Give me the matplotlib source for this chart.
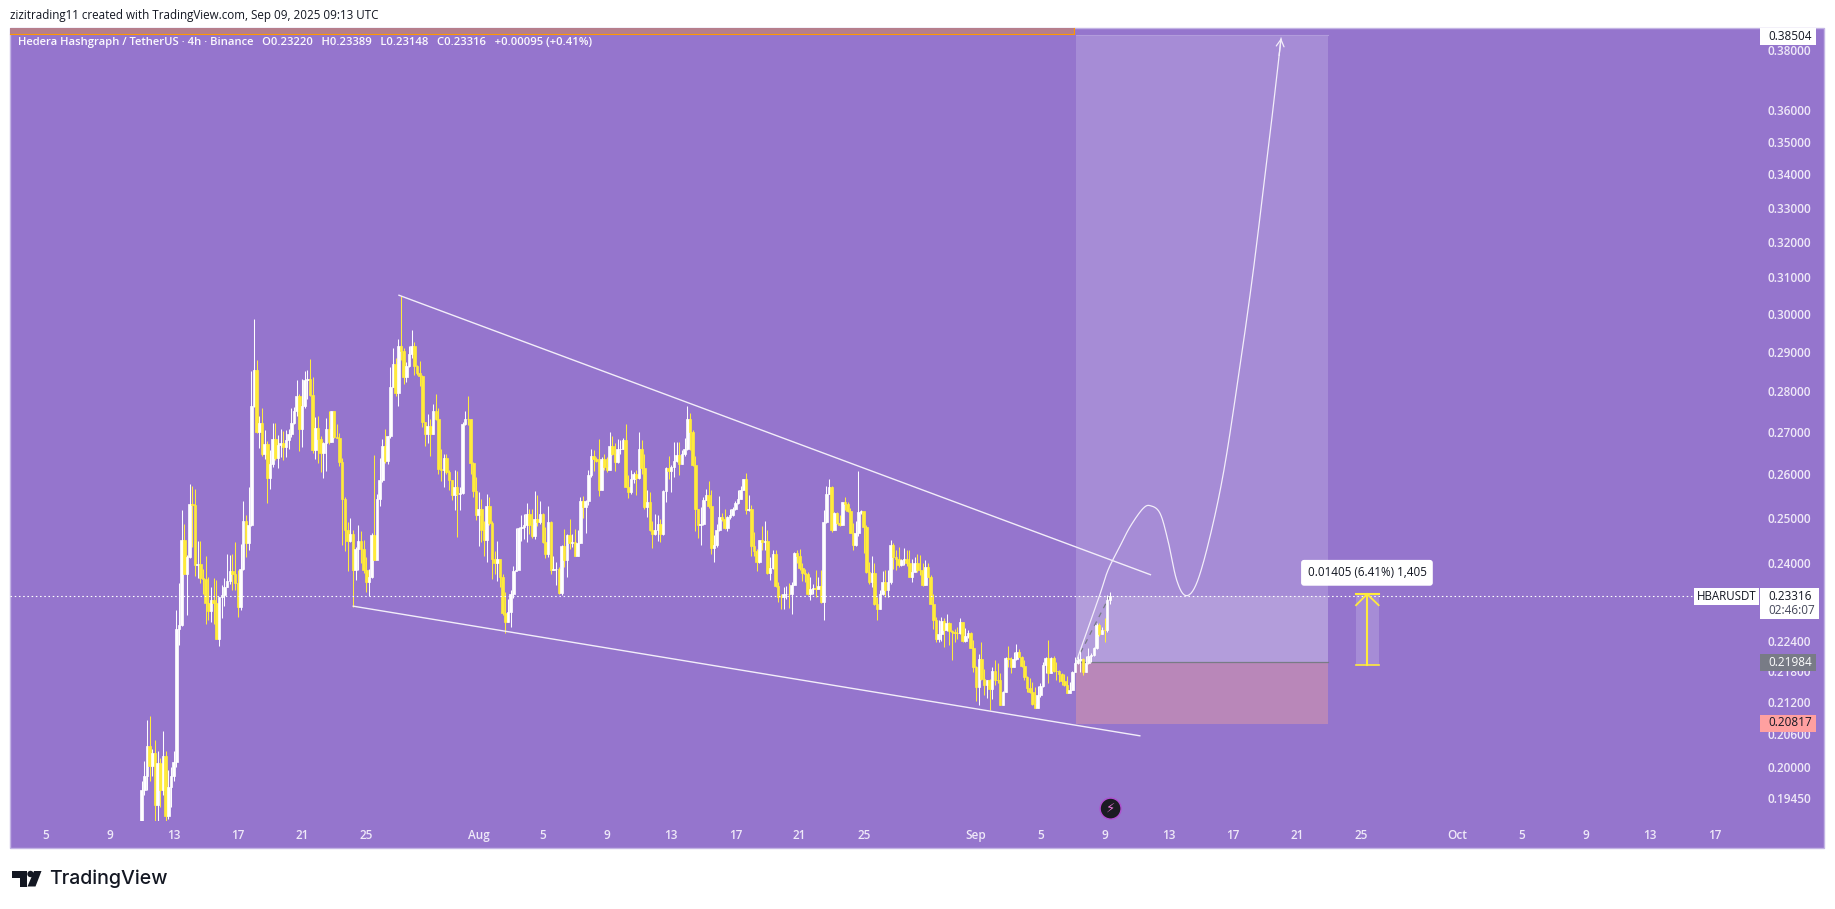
import numpy as np
import matplotlib
matplotlib.use("Agg")
import matplotlib.pyplot as plt
from matplotlib.patches import Rectangle, Circle, Polygon
from matplotlib.ticker import FixedLocator, FixedFormatter, NullLocator

W, H = 1835, 909
BG = "#9575CD"
UP = "#FFFFFF"
DOWN = "#FFEB3B"
TICK = "#EFE9F8"
FONT = "Open Sans"

# 4h candles of HBARUSDT, first bar on 11 Jul 2025 00:00 (days counted from 1 Jul)
first_open = 0.1880
first_day = 10.0
closes = [
 .1960,.1985,.2038,.2002,.2025,.1933,.2007,.1960,.2020,.1915,
 .1965,.1985,.2009,.2264,.2271,.2450,.2378,.2414,.2532,.2528,
 .2396,.2398,.2369,.2367,.2316,.2300,.2322,.2317,.2243,.2329,
 .2334,.2351,.2362,.2383,.2377,.2358,.2308,.2389,.2494,.2444,
 .2483,.2763,.2853,.2700,.2722,.2648,.2671,.2591,.2623,.2682,
 .2637,.2668,.2672,.2664,.2680,.2694,.2722,.2750,.2787,.2706,
 .2762,.2829,.2831,.2790,.2656,.2710,.2682,.2650,.2672,.2707,
 .2675,.2752,.2688,.2686,.2629,.2543,.2474,.2448,.2465,.2385,
 .2431,.2449,.2431,.2387,.2360,.2371,.2461,.2407,.2543,.2585,
 .2666,.2630,.2690,.2810,.2870,.2795,.2916,.2902,.2837,.2864,
 .2894,.2916,.2864,.2847,.2838,.2724,.2694,.2714,.2694,.2752,
 .2732,.2611,.2609,.2637,.2605,.2586,.2551,.2570,.2555,.2557,
 .2718,.2732,.2730,.2626,.2560,.2506,.2520,.2472,.2452,.2526,
 .2488,.2410,.2400,.2410,.2372,.2295,.2278,.2298,.2336,.2384,
 .2385,.2478,.2480,.2483,.2508,.2483,.2459,.2498,.2491,.2508,
 .2446,.2420,.2491,.2387,.2388,.2388,.2337,.2437,.2407,.2461,
 .2445,.2447,.2415,.2445,.2537,.2524,.2537,.2597,.2642,.2634,
 .2631,.2563,.2634,.2617,.2609,.2666,.2647,.2627,.2658,.2660,
 .2680,.2570,.2559,.2589,.2599,.2591,.2659,.2613,.2524,.2536,
 .2472,.2463,.2472,.2487,.2463,.2561,.2615,.2607,.2617,.2630,
 .2644,.2623,.2647,.2660,.2730,.2700,.2621,.2520,.2485,.2486,
 .2541,.2551,.2526,.2433,.2439,.2474,.2502,.2498,.2477,.2502,
 .2507,.2520,.2534,.2543,.2564,.2588,.2518,.2520,.2438,.2426,
 .2403,.2450,.2446,.2448,.2379,.2390,.2420,.2352,.2329,.2328,
 .2335,.2336,.2335,.2355,.2423,.2415,.2390,.2379,.2378,.2335,
 .2345,.2347,.2345,.2352,.2319,.2491,.2555,.2570,.2472,.2511,
 .2488,.2485,.2535,.2532,.2515,.2467,.2439,.2467,.2514,.2515,
 .2480,.2382,.2360,.2379,.2315,.2305,.2335,.2360,.2343,.2360,
 .2439,.2414,.2410,.2396,.2408,.2410,.2401,.2372,.2382,.2402,
 .2386,.2385,.2354,.2392,.2372,.2315,.2281,.2244,.2254,.2280,
 .2261,.2275,.2260,.2257,.2256,.2255,.2277,.2239,.2249,.2256,
 .2226,.2188,.2149,.2203,.2164,.2153,.2162,.2145,.2180,.2163,
 .2162,.2115,.2140,.2205,.2203,.2188,.2203,.2218,.2208,.2190,
 .2169,.2146,.2140,.2117,.2109,.2133,.2151,.2192,.2205,.2176,
 .2205,.2180,.2179,.2174,.2161,.2153,.2138,.2144,.2178,.2195,
 .2201,.2203,.2178,.2195,.2209,.2211,.2225,.2271,.2253,.2262,
 .2261,.2322,.23316,
]
highs = [
 .1975,.2011,.2086,.2093,.2032,.2050,.2029,.2016,.2065,.2029,
 .1995,.2000,.2029,.2303,.2359,.2518,.2487,.2418,.2577,.2572,
 .2565,.2448,.2448,.2389,.2415,.2372,.2350,.2368,.2364,.2330,
 .2354,.2370,.2421,.2418,.2421,.2447,.2385,.2443,.2537,.2506,
 .2571,.2850,.2988,.2880,.2738,.2758,.2704,.2678,.2656,.2722,
 .2722,.2692,.2706,.2702,.2704,.2708,.2758,.2760,.2827,.2794,
 .2831,.2850,.2853,.2883,.2837,.2736,.2738,.2690,.2676,.2734,
 .2752,.2752,.2752,.2718,.2696,.2637,.2546,.2490,.2500,.2472,
 .2436,.2483,.2470,.2452,.2414,.2389,.2467,.2644,.2554,.2637,
 .2682,.2708,.2690,.2861,.2910,.2884,.2935,.3049,.2911,.2875,
 .2916,.2957,.2925,.2866,.2876,.2840,.2724,.2744,.2730,.2768,
 .2794,.2758,.2659,.2648,.2648,.2609,.2586,.2609,.2606,.2570,
 .2724,.2750,.2789,.2732,.2629,.2593,.2559,.2543,.2494,.2553,
 .2547,.2494,.2426,.2448,.2410,.2377,.2339,.2325,.2343,.2394,
 .2478,.2480,.2506,.2509,.2534,.2520,.2520,.2560,.2551,.2537,
 .2511,.2480,.2526,.2494,.2415,.2403,.2392,.2439,.2476,.2465,
 .2497,.2463,.2476,.2472,.2547,.2549,.2541,.2609,.2660,.2656,
 .2640,.2682,.2639,.2647,.2640,.2699,.2690,.2672,.2683,.2680,
 .2686,.2718,.2597,.2609,.2605,.2609,.2699,.2680,.2648,.2564,
 .2559,.2494,.2509,.2506,.2498,.2563,.2617,.2642,.2621,.2676,
 .2676,.2676,.2656,.2686,.2762,.2746,.2704,.2642,.2520,.2524,
 .2547,.2566,.2583,.2563,.2461,.2487,.2549,.2511,.2520,.2503,
 .2520,.2524,.2539,.2563,.2572,.2589,.2603,.2551,.2528,.2468,
 .2432,.2451,.2481,.2493,.2474,.2414,.2430,.2428,.2360,.2335,
 .2350,.2352,.2359,.2360,.2424,.2428,.2431,.2400,.2389,.2382,
 .2371,.2356,.2385,.2371,.2385,.2518,.2572,.2588,.2572,.2512,
 .2513,.2506,.2536,.2546,.2536,.2523,.2489,.2494,.2607,.2517,
 .2508,.2483,.2403,.2415,.2401,.2329,.2343,.2383,.2385,.2387,
 .2450,.2444,.2430,.2436,.2410,.2434,.2428,.2428,.2410,.2414,
 .2420,.2418,.2400,.2407,.2402,.2375,.2335,.2288,.2281,.2288,
 .2286,.2293,.2278,.2262,.2264,.2268,.2285,.2278,.2266,.2261,
 .2258,.2241,.2190,.2213,.2237,.2183,.2163,.2164,.2188,.2201,
 .2195,.2175,.2142,.2207,.2229,.2207,.2217,.2234,.2223,.2210,
 .2201,.2170,.2167,.2159,.2149,.2151,.2156,.2198,.2207,.2241,
 .2207,.2209,.2197,.2181,.2175,.2174,.2170,.2159,.2180,.2207,
 .2209,.2219,.2205,.2209,.2225,.2215,.2228,.2276,.2275,.2268,
 .2286,.2333,.23389,
]
lows = [
 .1860,.1950,.1960,.1975,.1985,.1895,.1895,.1930,.1950,.1897,
 .1910,.1930,.1975,.2000,.2231,.2270,.2378,.2291,.2412,.2436,
 .2373,.2370,.2358,.2336,.2274,.2281,.2278,.2274,.2243,.2230,
 .2285,.2310,.2350,.2356,.2343,.2343,.2288,.2303,.2387,.2413,
 .2428,.2482,.2760,.2696,.2662,.2643,.2635,.2533,.2565,.2617,
 .2633,.2614,.2641,.2633,.2641,.2660,.2688,.2720,.2738,.2654,
 .2664,.2758,.2780,.2787,.2650,.2635,.2626,.2605,.2590,.2606,
 .2670,.2675,.2685,.2685,.2619,.2441,.2426,.2383,.2446,.2309,
 .2364,.2385,.2401,.2379,.2340,.2331,.2368,.2407,.2439,.2526,
 .2581,.2626,.2623,.2684,.2811,.2787,.2764,.2878,.2819,.2823,
 .2861,.2885,.2840,.2841,.2813,.2712,.2667,.2674,.2642,.2694,
 .2728,.2599,.2584,.2570,.2601,.2563,.2540,.2517,.2457,.2517,
 .2555,.2716,.2716,.2599,.2547,.2496,.2438,.2446,.2416,.2403,
 .2483,.2366,.2378,.2362,.2350,.2291,.2256,.2278,.2268,.2327,
 .2384,.2409,.2449,.2454,.2446,.2465,.2456,.2454,.2481,.2486,
 .2445,.2412,.2414,.2377,.2385,.2355,.2336,.2333,.2392,.2372,
 .2432,.2436,.2415,.2415,.2445,.2500,.2467,.2529,.2593,.2606,
 .2629,.2549,.2563,.2609,.2605,.2609,.2644,.2607,.2626,.2648,
 .2658,.2569,.2545,.2555,.2579,.2551,.2589,.2601,.2520,.2502,
 .2471,.2433,.2461,.2449,.2446,.2461,.2536,.2589,.2559,.2593,
 .2629,.2597,.2623,.2642,.2656,.2656,.2618,.2470,.2456,.2441,
 .2483,.2540,.2523,.2421,.2403,.2436,.2471,.2494,.2475,.2471,
 .2498,.2503,.2518,.2531,.2543,.2563,.2509,.2515,.2416,.2416,
 .2383,.2402,.2428,.2428,.2378,.2364,.2389,.2349,.2319,.2305,
 .2305,.2325,.2306,.2293,.2354,.2400,.2386,.2363,.2360,.2333,
 .2323,.2335,.2328,.2345,.2317,.2281,.2489,.2553,.2468,.2472,
 .2487,.2481,.2484,.2518,.2513,.2466,.2428,.2438,.2460,.2509,
 .2423,.2379,.2356,.2350,.2312,.2281,.2305,.2333,.2330,.2330,
 .2357,.2389,.2387,.2392,.2395,.2396,.2394,.2371,.2360,.2382,
 .2382,.2375,.2352,.2354,.2371,.2314,.2264,.2238,.2238,.2240,
 .2228,.2260,.2231,.2201,.2238,.2244,.2254,.2238,.2238,.2246,
 .2225,.2178,.2122,.2114,.2162,.2133,.2127,.2105,.2126,.2153,
 .2156,.2114,.2114,.2139,.2187,.2176,.2187,.2201,.2207,.2188,
 .2162,.2140,.2137,.2115,.2108,.2108,.2130,.2149,.2175,.2157,
 .2175,.2178,.2162,.2159,.2153,.2151,.2137,.2137,.2143,.2177,
 .2193,.2178,.2172,.2177,.2193,.2197,.2209,.2223,.2250,.2253,
 .2238,.2258,.23148,
]

# Axis labels
price_ticks = [.38,.36,.35,.34,.33,.32,.31,.30,.29,.28,.27,.26,.25,.24,.224,.218,.212,.206,.20,.1945]
time_days = [4,8,12,16,20,24,31,35,39,43,47,51,55,62,66,70,74,78,82,86,92,96,100,104,108]
time_labels = ["5","9","13","17","21","25","Aug","5","9","13","17","21","25","Sep","5","9","13","17","21","25","Oct","5","9","13","17"]

# Drawn objects: days since 1 Jul and prices
last_price = 0.23316
entry_price = 0.21984
stop_price = 0.2078
target_price = 0.38504
position_days = [68.22, 83.92]
upper_trend_days = [26.04, 72.86]
upper_trend_prices = [0.3051, 0.2376]
lower_trend_days = [23.19, 72.2]
lower_trend_prices = [0.2310, 0.2057]
path_days = [68.26,68.89,69.72,70.22,70.9,71.59,72.40,72.88,73.46,73.95,74.50,75.07,75.74,76.57,77.44,78.31,79.19,80.0,80.56,81.0]
path_prices = [.2200,.2257,.2335,.2386,.2433,.2480,.2521,.2527,.2510,.2450,.2364,.2332,.2358,.2458,.2609,.2828,.3092,.3397,.3633,.3840]
measure_days = [85.67, 86.36, 87.08]
measure_prices = [0.2335, 0.2312, 0.2191]


def smooth(xs, ys, n=14):
    # Catmull-Rom through the points
    p = np.column_stack([xs, np.log(ys)])
    p = np.vstack([2*p[0]-p[1], p, 2*p[-1]-p[-2]])
    out = []
    t = np.linspace(0, 1, n, endpoint=False)[:, None]
    for i in range(1, len(p)-2):
        a, b, c, d = p[i-1], p[i], p[i+1], p[i+2]
        out.append(0.5*(2*b + (c-a)*t + (2*a-5*b+4*c-d)*t**2 + (3*b-a-3*c+d)*t**3))
    out.append(p[-2][None, :])
    out = np.vstack(out)
    return out[:, 0], np.exp(out[:, 1])


def fx(x):
    return x/W


def fy(y):
    return 1 - y/H


fig = plt.figure(figsize=(W/100, H/100), dpi=100, facecolor="white")


def frect(x0, y0, x1, y1, color, z=10, **kw):
    r = Rectangle((fx(x0), fy(y1)), (x1-x0)/W, (y1-y0)/H, transform=fig.transFigure,
                  facecolor=color, edgecolor=kw.pop("edgecolor", "none"), zorder=z, **kw)
    fig.add_artist(r)
    return r


def ftext(x, y, s, z=11, **kw):
    kw.setdefault("family", FONT)
    kw.setdefault("va", "center")
    return fig.text(fx(x), fy(y), s, zorder=z, **kw)


# Chart background
frect(10, 27.5, 1824, 848, BG, z=-5, edgecolor="#C3B4E4", linewidth=1)
# Band along the top, with its orange edge
frect(10, 28, 1074, 34, "#B67E8C", z=-4)
fig.add_artist(plt.Line2D([fx(10), fx(1074), fx(1074)], [fy(34), fy(34), fy(28)],
                          transform=fig.transFigure, color="#FF9800", lw=0.8, zorder=-3))

ax = fig.add_axes([fx(10), fy(821), (1760-10)/W, (821-27.5)/H], zorder=1)
ax.patch.set_visible(False)
for s in ax.spines.values():
    s.set_visible(False)
ax.set_yscale("log")
ax.set_xlim(1.804, 110.84)
ax.set_ylim(0.1906, 0.3877)

# Position box
ax.fill_between(position_days, last_price, target_price, color="#A68CD6", lw=0, zorder=1)
ax.fill_between(position_days, entry_price, last_price, color="#B39DDB", lw=0, zorder=1)
ax.fill_between(position_days, stop_price, entry_price, color="#B987B9", lw=0, zorder=1)
ax.plot(position_days, [target_price]*2, color="#B29BDC", lw=0.8, zorder=1.1)
ax.plot(position_days, [entry_price]*2, color="#787B86", lw=0.9, zorder=1.1)
ax.plot([position_days[0], position_days[0]+2.11], [entry_price, last_price],
        color="#787B86", lw=0.9, ls=(0, (4, 4)), zorder=1.2)

# Candles
closes_a = np.array(closes)
highs_a = np.array(highs)
lows_a = np.array(lows)
opens_a = np.concatenate([[first_open], closes_a[:-1]])
days = first_day + np.arange(len(closes_a))/6
colors = [UP if c >= o else DOWN for o, c in zip(opens_a, closes_a)]
ax.vlines(days, lows_a, highs_a, colors=colors, lw=0.75, zorder=3)
ax.bar(days, np.abs(closes_a-opens_a), bottom=np.minimum(opens_a, closes_a), width=0.16,
       color=colors, edgecolor=colors, linewidth=0.5, zorder=3)

# Price line
ax.hlines(last_price, 1.804, 106.73, colors="white", lw=0.8, linestyles=(0, (1.4, 2.4)), zorder=4)

# Trend lines
ax.plot(upper_trend_days, upper_trend_prices, color="#F3EEFA", lw=1.0, zorder=5)
ax.plot(lower_trend_days, lower_trend_prices, color="#F3EEFA", lw=1.0, zorder=5)

# Projected path with arrow head
px, py = smooth(path_days, path_prices)
ax.plot(px, py, color="#F3EEFA", lw=0.9, zorder=5)
ax.annotate("", xy=(px[-1], py[-1]), xytext=(px[-5], py[-5]),
            arrowprops=dict(arrowstyle="->,head_width=0.28,head_length=0.5", color="#F3EEFA", lw=0.9,
                            shrinkA=0, shrinkB=0), zorder=5)

# Measure tool
ax.fill_between([measure_days[0], measure_days[2]], measure_prices[2], measure_prices[0],
                color="#A68CD6", lw=0, zorder=2)
ax.plot([measure_days[1]]*2, [measure_prices[0], measure_prices[2]], color=DOWN, lw=1.5, zorder=5)
ax.plot([measure_days[0], measure_days[2]], [measure_prices[0]]*2, color=DOWN, lw=1.5, zorder=5)
ax.plot([measure_days[0], measure_days[2]], [measure_prices[2]]*2, color=DOWN, lw=1.2, zorder=5)
ax.plot([measure_days[0], measure_days[1], measure_days[2]],
        [measure_prices[1], measure_prices[0], measure_prices[1]], color=DOWN, lw=1.3, zorder=5)
ax.text(86.35, 0.2380, "0.01405 (6.41%) 1,405", family=FONT, fontsize=8.4, color="#131722",
        ha="center", va="center", zorder=8,
        bbox=dict(boxstyle="round,pad=0.55,rounding_size=0.25", facecolor="white", edgecolor="none"))

# Axes text
ax.yaxis.tick_right()
ax.yaxis.set_major_locator(FixedLocator(price_ticks))
ax.yaxis.set_major_formatter(FixedFormatter([f"{p:.5f}" for p in price_ticks]))
ax.yaxis.set_minor_locator(NullLocator())
ax.set_xticks(time_days)
ax.set_xticklabels(time_labels)
ax.tick_params(axis="both", which="both", length=0, colors=TICK, labelsize=8.5)
ax.tick_params(axis="y", pad=5.4)
ax.tick_params(axis="x", pad=5.5)
for lab in ax.get_xticklabels() + ax.get_yticklabels():
    lab.set_family(FONT)
    lab.set_fontweight("semibold")

# Top text
ftext(10, 15, "zizitrading11 created with TradingView.com, Sep 09, 2025 09:13 UTC",
      fontsize=8.4, color="#131722", ha="left")
ftext(18, 42, "Hedera Hashgraph / TetherUS · 4h · Binance   O0.23220   H0.23389   L0.23148   C0.23316   +0.00095 (+0.41%)",
      fontsize=8.1, color="#FBF9FE", ha="left", fontweight="semibold")

# Price scale labels
frect(1694, 588, 1759, 605, "white")
ftext(1726.5, 596.7, "HBARUSDT", fontsize=8.3, color="#131722", ha="center")
frect(1760, 588, 1819, 619, "white")
ftext(1768, 597, "0.23316", fontsize=8.5, color="#131722", ha="left")
ftext(1768, 610.5, "02:46:07", fontsize=8.5, color="#44475A", ha="left")
frect(1760, 654, 1816, 671, "#787B86")
ftext(1768, 662, "0.21984", fontsize=8.5, color="white", ha="left")
frect(1760, 715, 1816, 732, "#FFA0A0")
ftext(1768, 723, "0.20817", fontsize=8.5, color="#131722", ha="left")
frect(1760, 28, 1816, 45, "white")
ftext(1768, 36.5, "0.38504", fontsize=8.5, color="#131722", ha="left")

# Lightning badge
identity = matplotlib.transforms.IdentityTransform()
fig.add_artist(Circle((1110.6, H-808.6), 10.5, transform=identity,
                      facecolor="#1B1B22", edgecolor="#B04FD0", linewidth=1.0, zorder=10))
ftext(1110.6, 808.6, "\u26A1", family="DejaVu Sans", fontsize=9.5, color="#E874D8", ha="center")


# TradingView logo
def poly(points, color="#131722"):
    fig.add_artist(Polygon([(fx(x), fy(y)) for x, y in points], closed=True, transform=fig.transFigure,
                           facecolor=color, edgecolor="none", zorder=10))


poly([(12, 871), (27, 871), (27, 886.5), (19.5, 886.5), (19.5, 877.5), (12, 877.5)])
poly([(34, 871), (41.5, 871), (35.5, 886.5), (27.5, 886.5)])
fig.add_artist(Circle((30.5, H-874), 3.2, transform=identity,
                      facecolor="#131722", edgecolor="none", zorder=10))
ftext(49, 878.5, "TradingView", family="Inter", fontsize=14.1, fontweight="medium", color="#131722", ha="left")

fig.savefig("out.png", dpi=100, facecolor="white")
